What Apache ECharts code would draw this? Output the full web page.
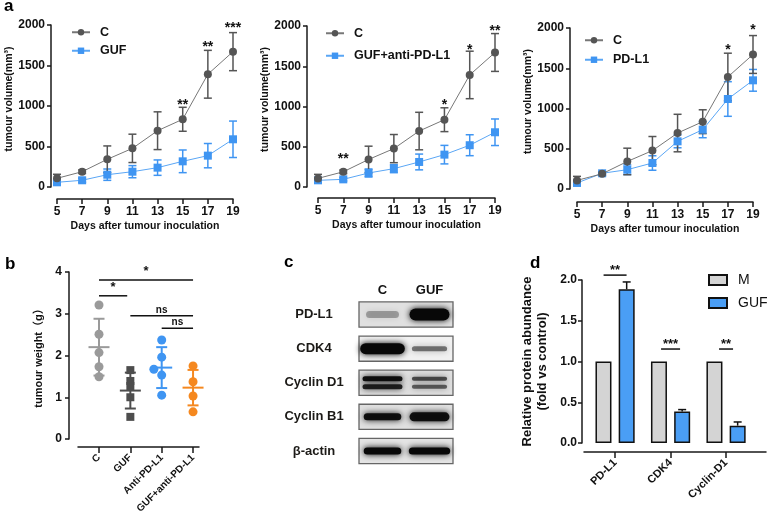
<!DOCTYPE html>
<html><head><meta charset="utf-8">
<script src="https://cdn.jsdelivr.net/npm/echarts@6/dist/echarts.min.js"></script>
<style>html,body{margin:0;padding:0;background:#fff}#c{width:767px;height:521px}</style>
</head><body><div id="c"></div>
<script>
// ---------- DATA ----------
const days = [5, 7, 9, 11, 13, 15, 17, 19];
const cMean = [107, 189, 342, 477, 695, 836, 1392, 1671];
const cSD = [50, 22, 165, 175, 233, 148, 295, 235];
const gufMean = [58, 83, 152, 189, 239, 317, 387, 589];
const gufSD = [20, 25, 70, 75, 95, 140, 150, 225];
const combMean = [83, 95, 174, 228, 311, 402, 519, 680];
const combSD = [25, 20, 50, 50, 98, 115, 130, 165];
const pdl1Mean = [75, 195, 240, 323, 592, 737, 1118, 1350];
const pdl1SD = [20, 15, 60, 90, 80, 100, 215, 135];
const sigA1 = [[15, 1016, '**'], [17, 1729, '**'], [19, 1964, '***']];
const sigA2 = [[7, 340, '**'], [15, 1022, '*'], [17, 1705, '*'], [19, 1934, '**']];
const sigA3 = [[17, 1730, '*'], [19, 1978, '*']];

const weightGroups = ['C', 'GUF', 'Anti-PD-L1', 'GUF+anti-PD-L1'];
const weightC = [3.21, 2.51, 2.07, 1.73, 1.49];
const weightGUF = [1.65, 1.39, 1.27, 1.00, 0.53];
const weightAnti = [2.37, 1.96, 1.67, 1.53, 1.05];
const weightComb = [1.75, 1.37, 1.40, 1.03, 0.65];
const weightMean = [2.20, 1.16, 1.71, 1.23];
const weightSD = [0.68, 0.43, 0.49, 0.425];
const weightSig = [[0, 0.9, 3.43, '*'], [0, 3, 3.81, '*'], [1, 3, 2.95, 'ns'], [2, 3, 2.65, 'ns']];

const blotRows = ['PD-L1', 'CDK4', 'Cyclin D1', 'Cyclin B1', 'β-actin'];
const blotLanes = ['C', 'GUF'];
const bandC = [0.3, 1.0, 0.95, 0.95, 1.0];
const bandGUF = [1.0, 0.5, 0.65, 0.95, 1.0];

const proteins = ['PD-L1', 'CDK4', 'Cyclin-D1'];
const abundM = [1, 1, 1];
const abundGUF = [1.886, 0.385, 0.213];
const abundGUFErr = [0.09, 0.025, 0.045];
const sigD = [[0, 2.06, '**'], [1, 1.153, '***'], [2, 1.153, '**']];

// ---------- STYLE ----------
const FONT = "'Liberation Sans', Arial, 'Noto Sans CJK SC', sans-serif";
const AX = '#1a1a1a';
const GRAY = '#555555';
const BLUE = '#3f95f2';
const axLine = {show: true, onZero: false, lineStyle: {color: AX, width: 1.5}};
function tick(len, cv) { const t = {show: true, length: len, lineStyle: {color: AX, width: 1.5}}; if (cv) t.customValues = cv; return t; }
const lbl = (o) => Object.assign({fontSize: 12, fontWeight: 'bold', color: '#111', fontFamily: FONT}, o);

function yVol(gi, off) {
  return {type: 'value', gridIndex: gi, min: 0, max: 2000, interval: 500, offset: off,
    axisLine: axLine, axisTick: tick(4), splitLine: {show: false},
    axisLabel: lbl({margin: 6, formatter: v => String(v)}),
    name: 'tumour volume(mm³)', nameLocation: 'middle', nameGap: 35,
    nameTextStyle: lbl({fontSize: 10.5, padding: [0, 0, 0, 14]})};
}
function xDays(gi, off) {
  return {type: 'value', gridIndex: gi, min: 5, max: 19, offset: off,
    axisLine: axLine, axisTick: tick(5, days), splitLine: {show: false},
    axisLabel: lbl({margin: 7, customValues: days}),
    name: 'Days after tumour inoculation', nameLocation: 'middle', nameGap: 22,
    nameTextStyle: lbl({fontSize: 10.5})};
}
function errSeries(gi, mean, sd, color) {
  return {type: 'custom', xAxisIndex: gi, yAxisIndex: gi, silent: true, clip: false,
    data: days.map((d, i) => [d, mean[i], sd[i]]), encode: {x: 0, y: 1},
    renderItem: (p, api) => {
      const x = api.value(0), m = api.value(1), s = api.value(2);
      const t = api.coord([x, m + s]), b = api.coord([x, m - s]);
      const st = {stroke: color, lineWidth: 1.5}, cap = 4;
      return {type: 'group', children: [
        {type: 'line', shape: {x1: t[0], y1: t[1], x2: b[0], y2: b[1]}, style: st},
        {type: 'line', shape: {x1: t[0] - cap, y1: t[1], x2: t[0] + cap, y2: t[1]}, style: st},
        {type: 'line', shape: {x1: b[0] - cap, y1: b[1], x2: b[0] + cap, y2: b[1]}, style: st}]};
    }};
}
function lineSeries(gi, name, mean, isC) {
  return {type: 'line', name: name, xAxisIndex: gi, yAxisIndex: gi,
    data: days.map((d, i) => [d, mean[i]]),
    symbol: isC ? 'circle' : 'rect', symbolSize: 8,
    itemStyle: {color: isC ? GRAY : BLUE},
    lineStyle: {color: isC ? '#777777' : '#5aa6f5', width: 1}, z: isC ? 4 : 3};
}
function starSeries(gi, arr) {
  return {type: 'custom', xAxisIndex: gi, yAxisIndex: gi, clip: false, silent: true,
    data: arr.map(d => [d[0], d[1]]), encode: {x: 0, y: 1},
    renderItem: (p, api) => {
      const c = api.coord([api.value(0), api.value(1)]);
      return {type: 'text', x: c[0], y: c[1], style: {text: arr[p.dataIndex][2], fontSize: 14,
        fontWeight: 'bold', fontFamily: FONT, fill: '#111', align: 'center', verticalAlign: 'middle'}};
    }};
}
function legendA(names, left, top, gap) {
  return {data: names, orient: 'vertical', left: left, top: top, padding: 0, itemWidth: 18, itemHeight: 8,
    itemGap: gap, selectedMode: false,
    textStyle: {fontSize: 12.5, fontWeight: 'bold', color: '#111', fontFamily: FONT, padding: [0, 0, 0, 5]}};
}

// panel b layout
const weightSets = [weightC, weightGUF, weightAnti, weightComb];
const weightColors = ['#9a9a9a', '#4d4d4d', '#3f95f2', '#f5881f'];
const dotSpread = [[0, 0, 0, 0, 0], [0, 0, 0, 0, 0], [0, 0, -0.25, 0, 0], [0, 0, 0.27, 0, 0]];

// panel c band appearance: [width frac C, width frac GUF, thickness C, thickness GUF, doublet]
const bandLayout = [[0.7, 0.85, 7, 12, 0], [0.95, 0.75, 11, 5, 0], [0.85, 0.75, 5, 4, 1],
  [0.8, 0.85, 7, 9, 0], [0.8, 0.88, 7, 7, 0]];
const boxFill = ['#e0e0e0', '#f1f1f1', '#e0e0e0', '#e0e0e0', '#e4e4e4'];

const option = {
  animation: false,
  textStyle: {fontFamily: FONT},
  grid: [
    {left: 57, top: 25, width: 176, height: 162},
    {left: 318, top: 26, width: 177, height: 161},
    {left: 577, top: 28, width: 176, height: 161},
    {left: 78, top: 272, width: 121, height: 167},
    {left: 359, top: 297.5, width: 94, height: 170.5},
    {left: 584, top: 280, width: 182, height: 163}
  ],
  xAxis: [
    xDays(0, 12), xDays(1, 11), xDays(2, 13),
    {type: 'value', gridIndex: 3, min: -0.67, max: 3.19, offset: 8, axisLine: axLine,
      axisTick: tick(6, [0, 1, 2, 3]), splitLine: {show: false},
      axisLabel: lbl({fontSize: 10, rotate: 45, margin: 9, customValues: [0, 1, 2, 3],
        formatter: v => weightGroups[Math.round(v)]})},
    {type: 'category', gridIndex: 4, data: blotLanes, position: 'top', axisLine: {show: false},
      axisTick: {show: false}, axisLabel: lbl({fontSize: 13, margin: 1})},
    {type: 'value', gridIndex: 5, min: -0.56, max: 2.72, offset: 9, axisLine: axLine,
      axisTick: tick(6, [0, 1, 2]), splitLine: {show: false},
      axisLabel: lbl({fontSize: 11, rotate: 45, margin: 9, customValues: [0, 1, 2],
        formatter: v => proteins[Math.round(v)]})}
  ],
  yAxis: [
    yVol(0, 6), yVol(1, 11), yVol(2, 7),
    {type: 'value', gridIndex: 3, min: 0, max: 4, interval: 1, offset: 9, axisLine: axLine,
      axisTick: tick(4), splitLine: {show: false}, axisLabel: lbl({margin: 7}),
      name: 'tumour weight（g）', nameLocation: 'middle', nameGap: 25, nameTextStyle: lbl({fontSize: 11})},
    {type: 'category', gridIndex: 4, data: blotRows, inverse: true, axisLine: {show: false},
      axisTick: {show: false}, axisLabel: lbl({fontSize: 13, margin: 45, align: 'center', color: '#1c1a17'})},
    {type: 'value', gridIndex: 5, min: 0, max: 2, interval: 0.5, offset: 2, axisLine: axLine,
      axisTick: tick(4), splitLine: {show: false},
      axisLabel: lbl({margin: 5, formatter: v => v.toFixed(1)}),
      name: 'Relative protein abundance\n(fold vs control)', nameLocation: 'middle', nameGap: 32,
      nameTextStyle: lbl({fontSize: 13, lineHeight: 15})}
  ],
  legend: [
    legendA(['C', 'GUF'], 71, 26, 6),
    legendA(['C', 'GUF+anti-PD-L1'], 325, 27, 10),
    legendA(['C', 'PD-L1'], 584, 34, 7),
    {data: ['M', 'GUF '], orient: 'vertical', left: 708, top: 273, padding: 0, itemWidth: 18, itemHeight: 10,
      itemGap: 9, icon: 'rect', selectedMode: false,
      textStyle: {fontSize: 14, color: '#111', fontFamily: FONT, padding: [0, 0, 0, 6]}}
  ],
  graphic: [
    {type: 'text', x: 4, y: 6, style: {text: 'a', fontSize: 17, fontWeight: 'bold', fontFamily: FONT, fill: '#000', verticalAlign: 'middle'}},
    {type: 'text', x: 5, y: 264, style: {text: 'b', fontSize: 17, fontWeight: 'bold', fontFamily: FONT, fill: '#000', verticalAlign: 'middle'}},
    {type: 'text', x: 284, y: 262, style: {text: 'c', fontSize: 17, fontWeight: 'bold', fontFamily: FONT, fill: '#000', verticalAlign: 'middle'}},
    {type: 'text', x: 530, y: 263, style: {text: 'd', fontSize: 17, fontWeight: 'bold', fontFamily: FONT, fill: '#000', verticalAlign: 'middle'}}
  ],
  series: []
};

const S = option.series;
// panel a
[[0, gufMean, gufSD, 'GUF', sigA1], [1, combMean, combSD, 'GUF+anti-PD-L1', sigA2], [2, pdl1Mean, pdl1SD, 'PD-L1', sigA3]]
  .forEach(([gi, m, sd, name, sig]) => {
    S.push(errSeries(gi, m, sd, BLUE));
    S.push(lineSeries(gi, name, m, false));
    S.push(errSeries(gi, cMean, cSD, GRAY));
    S.push(lineSeries(gi, 'C', cMean, true));
    S.push(starSeries(gi, sig));
  });

// panel b
weightSets.forEach((arr, g) => {
  S.push({type: 'scatter', xAxisIndex: 3, yAxisIndex: 3, silent: true,
    symbol: g === 1 ? 'rect' : 'circle', symbolSize: g === 1 ? 8 : 9,
    itemStyle: {color: weightColors[g], opacity: 1},
    data: arr.map((v, i) => [g + dotSpread[g][i], v])});
});
S.push({type: 'custom', xAxisIndex: 3, yAxisIndex: 3, silent: true, clip: false,
  data: weightMean.map((m, i) => [i, m, weightSD[i]]), encode: {x: 0, y: 1},
  renderItem: (p, api) => {
    const i = api.value(0), m = api.value(1), s = api.value(2);
    const c = api.coord([i, m]), t = api.coord([i, m + s]), b = api.coord([i, m - s]);
    const st = {stroke: weightColors[p.dataIndex], lineWidth: 2};
    return {type: 'group', children: [
      {type: 'line', shape: {x1: c[0] - 10.5, y1: c[1], x2: c[0] + 10.5, y2: c[1]}, style: st},
      {type: 'line', shape: {x1: t[0], y1: t[1], x2: b[0], y2: b[1]}, style: st},
      {type: 'line', shape: {x1: t[0] - 5.5, y1: t[1], x2: t[0] + 5.5, y2: t[1]}, style: st},
      {type: 'line', shape: {x1: b[0] - 5.5, y1: b[1], x2: b[0] + 5.5, y2: b[1]}, style: st}]};
  }});
S.push({type: 'custom', xAxisIndex: 3, yAxisIndex: 3, silent: true, clip: false,
  data: weightSig.map(d => [d[0], d[1], d[2]]), encode: {x: [0, 1], y: 2},
  renderItem: (p, api) => {
    const a = api.coord([api.value(0), api.value(2)]), b = api.coord([api.value(1), api.value(2)]);
    const txt = weightSig[p.dataIndex][3], ns = txt === 'ns';
    return {type: 'group', children: [
      {type: 'line', shape: {x1: a[0], y1: a[1], x2: b[0], y2: b[1]}, style: {stroke: '#111', lineWidth: 1.5}},
      {type: 'text', x: (a[0] + b[0]) / 2, y: a[1] - (ns ? 6 : 2), style: {text: txt, fontSize: ns ? 10 : 13,
        fontWeight: 'bold', fontFamily: FONT, fill: '#111', align: 'center', verticalAlign: ns ? 'middle' : 'bottom'}}]};
  }});

// panel c (blot)
S.push({type: 'custom', xAxisIndex: 4, yAxisIndex: 4, silent: true,
  data: blotRows.map((r, i) => [0, i]), encode: {x: 0, y: 1},
  renderItem: (p, api) => {
    const cs = p.coordSys, c = api.coord([0, api.value(1)]), h = api.size([0, 1])[1] * 0.74;
    return {type: 'rect', shape: {x: cs.x, y: c[1] - h / 2, width: cs.width, height: h},
      style: {fill: boxFill[p.dataIndex], stroke: '#666', lineWidth: 1.3}};
  }});
const bandData = [];
blotRows.forEach((r, i) => { bandData.push([0, i, bandC[i]]); bandData.push([1, i, bandGUF[i]]); });
S.push({type: 'custom', xAxisIndex: 4, yAxisIndex: 4, silent: true,
  data: bandData, encode: {x: 0, y: 1},
  renderItem: (p, api) => {
    const lane = api.value(0), row = api.value(1), k = api.value(2);
    const c = api.coord([lane, row]), lw = api.size([1, 0])[0];
    const L = bandLayout[row], w = lw * L[lane], th = L[2 + lane];
    const mk = (dy, t, kk) => ({type: 'rect', shape: {x: c[0] - w / 2, y: c[1] + dy - t / 2, width: w, height: t, r: t / 2},
      style: {fill: 'rgba(8,8,8,' + kk + ')', shadowBlur: 6, shadowColor: 'rgba(0,0,0,' + kk + ')'}});
    const ch = L[4] ? [mk(-4, th, k), mk(4, th, k * 0.9)] : [mk(0, th, k)];
    return {type: 'group', children: ch};
  }});

// panel d
S.push({type: 'bar', name: 'M', xAxisIndex: 5, yAxisIndex: 5, barWidth: 16, barGap: '45%', silent: true,
  itemStyle: {color: '#d4d4d4', borderColor: '#111', borderWidth: 1.5},
  data: abundM.map((v, i) => [i, v])});
S.push({type: 'bar', name: 'GUF ', xAxisIndex: 5, yAxisIndex: 5, barWidth: 16, barGap: '45%', silent: true,
  itemStyle: {color: '#4a9ef5', borderColor: '#111', borderWidth: 1.5},
  data: abundGUF.map((v, i) => [i, v])});
S.push({type: 'custom', xAxisIndex: 5, yAxisIndex: 5, silent: true, clip: false,
  data: abundGUF.map((v, i) => [i, v, abundGUFErr[i]]), encode: {x: 0, y: 1},
  renderItem: (p, api) => {
    const i = api.value(0), v = api.value(1), e = api.value(2);
    const b = api.coord([i, v]), t = api.coord([i, v + e]), x = b[0] + 11.6;
    const st = {stroke: '#111', lineWidth: 1.5};
    return {type: 'group', children: [
      {type: 'line', shape: {x1: x, y1: b[1], x2: x, y2: t[1]}, style: st},
      {type: 'line', shape: {x1: x - 4, y1: t[1], x2: x + 4, y2: t[1]}, style: st}]};
  }});
const bracketHalf = [11.5, 9.5, 7];
S.push({type: 'custom', xAxisIndex: 5, yAxisIndex: 5, silent: true, clip: false,
  data: sigD.map(d => [d[0], d[1]]), encode: {x: 0, y: 1},
  renderItem: (p, api) => {
    const c = api.coord([api.value(0), api.value(1)]), hw = bracketHalf[p.dataIndex];
    return {type: 'group', children: [
      {type: 'line', shape: {x1: c[0] - hw, y1: c[1], x2: c[0] + hw, y2: c[1]}, style: {stroke: '#111', lineWidth: 1.5}},
      {type: 'text', x: c[0], y: c[1] + 2, style: {text: sigD[p.dataIndex][2], fontSize: 13, fontWeight: 'bold',
        fontFamily: FONT, fill: '#111', align: 'center', verticalAlign: 'bottom'}}]};
  }});

const chart = echarts.init(document.getElementById('c'));
chart.setOption(option);
</script>
</body></html>
